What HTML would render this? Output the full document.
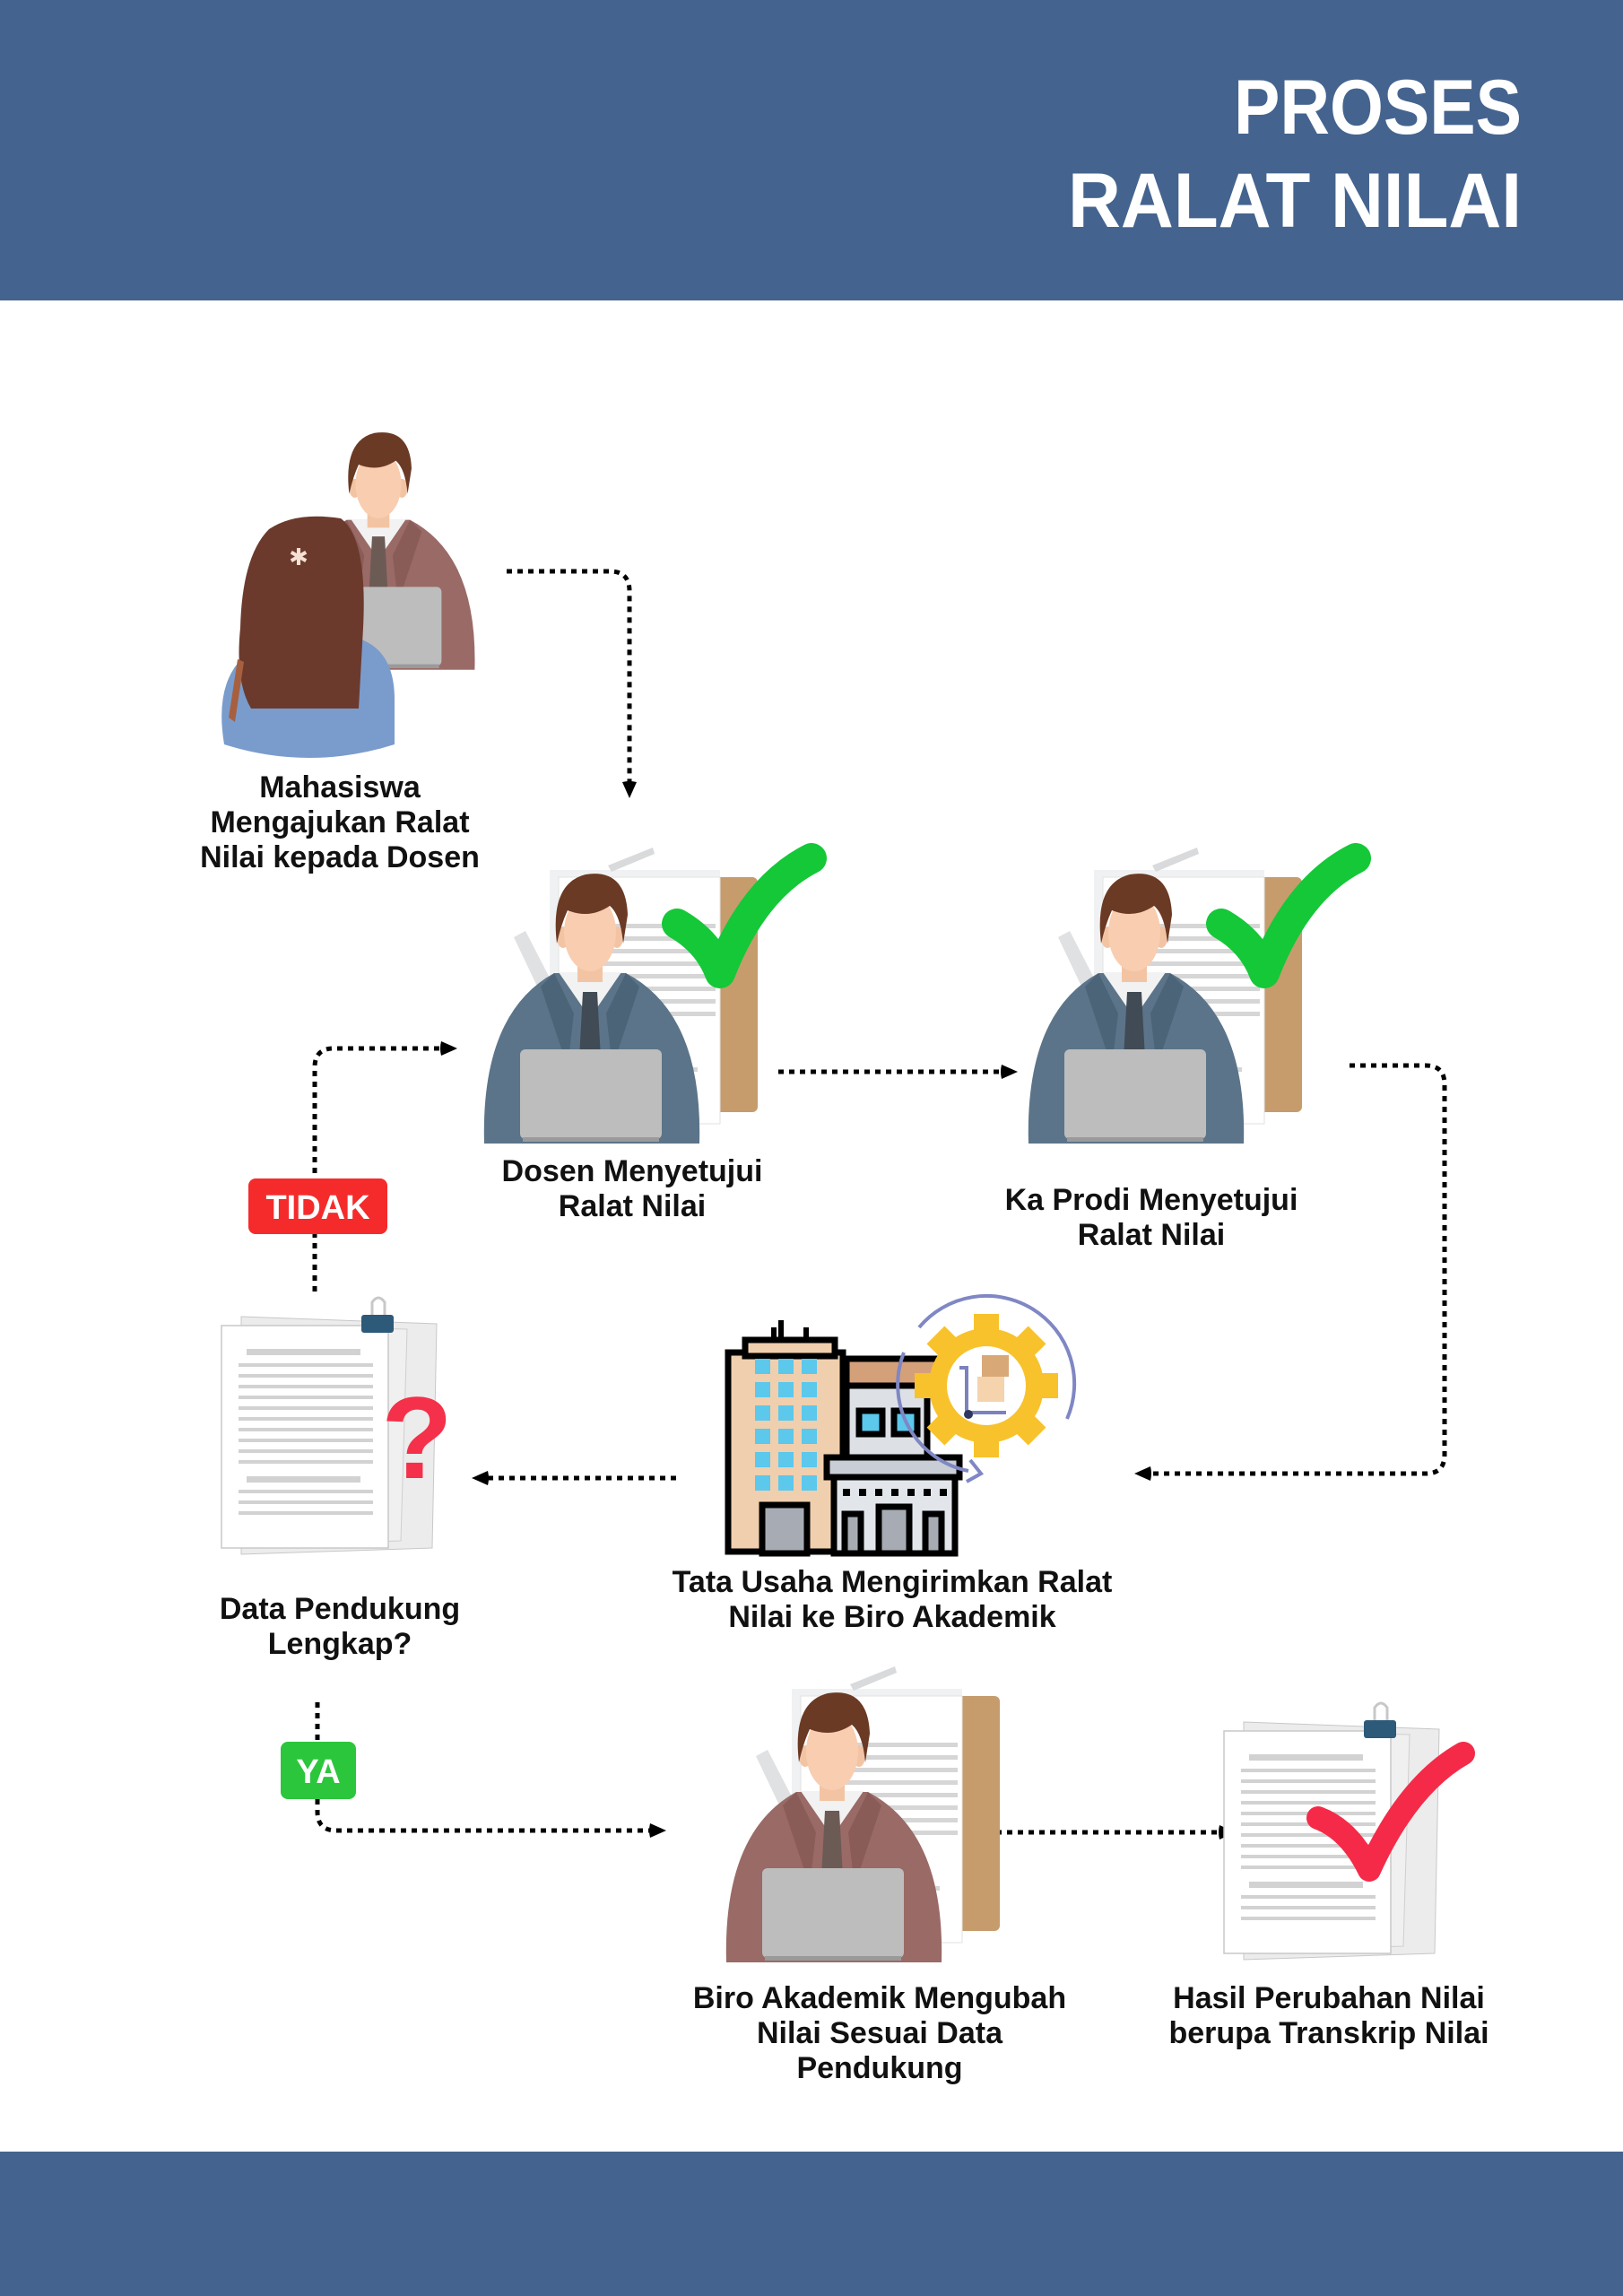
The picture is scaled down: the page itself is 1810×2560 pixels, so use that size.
<!DOCTYPE html>
<html><head><meta charset="utf-8"><style>
html,body{margin:0;padding:0;background:#fff}
svg{display:block}
</style></head><body>
<svg width="1810" height="2560" viewBox="0 0 1810 2560" xmlns="http://www.w3.org/2000/svg">
<defs>
<marker id="ar" markerWidth="22" markerHeight="22" refX="4" refY="11" orient="auto" markerUnits="userSpaceOnUse">
<path d="M2,3 L20,11 L2,19 Q0,11 2,3 Z" fill="#000"/>
</marker>
<g id="papers">
<path d="M-85,5 L-72,-2 L-40,60 L-55,68 Z" fill="#dfe1e3"/>
<rect x="-25" y="-62" width="212" height="262" fill="#c69c6d" rx="6"/>
<rect x="-45" y="-70" width="190" height="280" fill="#f0f1f2"/>
<rect x="-35" y="-62" width="180" height="275" fill="#fff" stroke="#e2e2e2"/>
<g fill="#d6d6d6">
<rect x="-10" y="-10" width="150" height="5"/><rect x="-10" y="4" width="150" height="5"/>
<rect x="-10" y="18" width="150" height="5"/><rect x="-10" y="32" width="150" height="5"/>
<rect x="-10" y="46" width="150" height="5"/><rect x="-10" y="60" width="150" height="5"/>
<rect x="-10" y="74" width="150" height="5"/><rect x="-10" y="88" width="150" height="5"/>
<rect x="-10" y="150" width="130" height="5"/><rect x="-10" y="185" width="130" height="5"/>
</g>
<path d="M20,-75 L70,-95 L72,-88 L24,-68 Z" fill="#d8dadc"/>
</g>
<g id="pblue">
<path d="M-118,235 Q-122,90 -40,45 L40,45 Q126,90 122,235 Z" fill="#5b7489"/>
<path d="M-35,44 L0,95 L35,44 Z" fill="#f2f2f2"/>
<path d="M-8,66 L8,66 L12,140 L0,150 L-12,140 Z" fill="#414b55"/>
<path d="M-40,45 L-18,90 L-25,150 L-55,60 Z M40,45 L18,90 L25,150 L55,60 Z" fill="#4c6477"/>
<rect x="-14" y="25" width="28" height="30" fill="#f3c4a4"/>
<ellipse cx="-30" cy="5" rx="7" ry="12" fill="#f3c4a4"/><ellipse cx="30" cy="5" rx="7" ry="12" fill="#f3c4a4"/>
<ellipse cx="0" cy="0" rx="29" ry="43" fill="#f8cdb0"/>
<path d="M-37,12 Q-45,-55 -5,-65 Q40,-72 42,-20 L37,12 Q34,-20 22,-30 Q0,-15 -25,-25 Q-32,-10 -37,12 Z" fill="#6b3a24"/>
<rect x="-78" y="130" width="158" height="100" rx="6" fill="#bdbdbd"/>
<rect x="-75" y="228" width="152" height="5" fill="#9a9a9a"/>
</g>
<g id="pbrown">
<path d="M-118,235 Q-122,90 -40,45 L40,45 Q126,90 122,235 Z" fill="#9a6a66"/>
<path d="M-35,44 L0,95 L35,44 Z" fill="#f2f2f2"/>
<path d="M-8,66 L8,66 L12,140 L0,150 L-12,140 Z" fill="#6c5a55"/>
<path d="M-40,45 L-18,90 L-25,150 L-55,60 Z M40,45 L18,90 L25,150 L55,60 Z" fill="#8a5c58"/>
<rect x="-14" y="25" width="28" height="30" fill="#f3c4a4"/>
<ellipse cx="-30" cy="5" rx="7" ry="12" fill="#f3c4a4"/><ellipse cx="30" cy="5" rx="7" ry="12" fill="#f3c4a4"/>
<ellipse cx="0" cy="0" rx="29" ry="43" fill="#f8cdb0"/>
<path d="M-37,12 Q-45,-55 -5,-65 Q40,-72 42,-20 L37,12 Q34,-20 22,-30 Q0,-15 -25,-25 Q-32,-10 -37,12 Z" fill="#6b3a24"/>
<rect x="-78" y="130" width="158" height="100" rx="6" fill="#bdbdbd"/>
<rect x="-75" y="228" width="152" height="5" fill="#9a9a9a"/>
</g>
<g id="doc">
<path d="M22,-10 L240,-2 L235,248 L22,255 Z" fill="#ececec" stroke="#c8c8c8"/>
<path d="M40,0 L207,4 L200,240 L40,245 Z" fill="#f0f0f0" stroke="#cfcfcf"/>
<rect x="0" y="0" width="186" height="248" fill="#fff" stroke="#c8c8c8" stroke-width="1.5"/>
<g fill="#d2d2d2">
<rect x="28" y="26" width="127" height="7"/>
<rect x="19" y="42" width="150" height="4"/><rect x="19" y="54" width="150" height="4"/>
<rect x="19" y="66" width="150" height="4"/><rect x="19" y="78" width="150" height="4"/>
<rect x="19" y="90" width="150" height="4"/><rect x="19" y="102" width="150" height="4"/>
<rect x="19" y="114" width="150" height="4"/><rect x="19" y="126" width="150" height="4"/>
<rect x="19" y="138" width="150" height="4"/><rect x="19" y="150" width="150" height="4"/>
<rect x="28" y="168" width="127" height="7"/>
<rect x="19" y="183" width="150" height="4"/><rect x="19" y="195" width="150" height="4"/>
<rect x="19" y="207" width="150" height="4"/>
</g>
<path d="M168,-12 L168,-26 Q175,-36 182,-26 L182,-12" fill="none" stroke="#c8c8c8" stroke-width="3"/>
<rect x="156" y="-12" width="36" height="20" rx="3" fill="#2d5a78"/>
</g>
</defs>

<rect x="0" y="0" width="1810" height="335" fill="#44648f"/>
<rect x="0" y="2399" width="1810" height="161" fill="#44648f"/>
<g font-family="'Liberation Sans',sans-serif" font-weight="bold" fill="#fff" font-size="86" text-anchor="end">
<text x="1697" y="149" textLength="321" lengthAdjust="spacingAndGlyphs">PROSES</text>
<text x="1697" y="253" textLength="506" lengthAdjust="spacingAndGlyphs">RALAT NILAI</text>
</g>

<g fill="none" stroke="#000" stroke-width="5" stroke-dasharray="6 6">
<path d="M565,637 H680 Q702,637 702,659 V874" marker-end="url(#ar)"/>
<path d="M351,1440 V1190 Q351,1169 372,1169 H494" marker-end="url(#ar)"/>
<path d="M868,1195 H1119" marker-end="url(#ar)"/>
<path d="M1505,1188 H1590 Q1611,1188 1611,1209 V1622 Q1611,1643 1590,1643 H1281" marker-end="url(#ar)"/>
<path d="M754,1648 H542" marker-end="url(#ar)"/>
<path d="M354,1898 V2020 Q354,2041 375,2041 H727" marker-end="url(#ar)"/>
<path d="M1111,2043 H1362" marker-end="url(#ar)"/>
</g>

<rect x="277" y="1314" width="155" height="62" rx="8" fill="#f52b2b"/>
<text x="354.5" y="1359" font-family="'Liberation Sans',sans-serif" font-weight="bold" font-size="38" fill="#fff" text-anchor="middle">TIDAK</text>
<rect x="313" y="1942" width="84" height="64" rx="8" fill="#2cc63c"/>
<text x="355" y="1988" font-family="'Liberation Sans',sans-serif" font-weight="bold" font-size="38" fill="#fff" text-anchor="middle">YA</text>

<g transform="translate(422,540) scale(0.88)">
<use href="#pbrown"/>
</g>
<path d="M250,830 Q235,740 300,715 L400,712 Q440,725 440,780 L440,830 Q345,860 250,830 Z" fill="#7a9ccc"/>
<path d="M300,590 Q330,570 380,578 Q410,600 405,700 L400,790 L280,790 Q262,760 268,700 Q270,620 300,590 Z" fill="#6b3a2c"/>
<path d="M255,800 L265,735 L272,738 L262,805 Z" fill="#a7603f"/>
<text x="333" y="630" font-family="'Liberation Sans',sans-serif" font-size="26" fill="#f5e1d3" text-anchor="middle">✱</text>

<g transform="translate(658,1040)"><use href="#papers"/></g>
<path d="M755,1030 Q790,1050 803,1085 Q840,990 905,957" fill="none" stroke="#14c838" stroke-width="34" stroke-linecap="round" stroke-linejoin="round"/>
<g transform="translate(658,1040)"><use href="#pblue"/></g>

<g transform="translate(1265,1040)"><use href="#papers"/></g>
<path d="M1362,1030 Q1397,1050 1410,1085 Q1447,990 1512,957" fill="none" stroke="#14c838" stroke-width="34" stroke-linecap="round" stroke-linejoin="round"/>
<g transform="translate(1265,1040)"><use href="#pblue"/></g>

<g stroke="#000" stroke-width="7">
<rect x="944" y="1515" width="120" height="40" fill="#d4a07a"/>
<rect x="944" y="1545" width="90" height="80" fill="#dde1e6"/>
<rect x="812" y="1508" width="128" height="222" fill="#f0cfae"/>
<rect x="831" y="1494" width="100" height="18" fill="#f0cfae"/>
<rect x="922" y="1625" width="148" height="22" fill="#c9ced6"/>
<rect x="930" y="1647" width="135" height="85" fill="#e2e6ea"/>
</g>
<rect x="868" y="1472" width="6" height="22" fill="#000"/><rect x="860" y="1480" width="6" height="14" fill="#000"/><rect x="896" y="1480" width="6" height="14" fill="#000"/>
<g fill="#5bc8ec">
<rect x="842" y="1515" width="17" height="17"/><rect x="868" y="1515" width="17" height="17"/><rect x="894" y="1515" width="17" height="17"/>
<rect x="842" y="1541" width="17" height="17"/><rect x="868" y="1541" width="17" height="17"/><rect x="894" y="1541" width="17" height="17"/>
<rect x="842" y="1567" width="17" height="17"/><rect x="868" y="1567" width="17" height="17"/><rect x="894" y="1567" width="17" height="17"/>
<rect x="842" y="1593" width="17" height="17"/><rect x="868" y="1593" width="17" height="17"/><rect x="894" y="1593" width="17" height="17"/>
<rect x="842" y="1619" width="17" height="17"/><rect x="868" y="1619" width="17" height="17"/><rect x="894" y="1619" width="17" height="17"/>
<rect x="842" y="1645" width="17" height="17"/><rect x="868" y="1645" width="17" height="17"/><rect x="894" y="1645" width="17" height="17"/>
</g>
<rect x="850" y="1678" width="50" height="54" fill="#a7acb4" stroke="#000" stroke-width="7"/>
<rect x="958" y="1573" width="26" height="26" fill="#5bc8ec" stroke="#000" stroke-width="7"/>
<rect x="997" y="1573" width="26" height="26" fill="#5bc8ec" stroke="#000" stroke-width="7"/>
<g fill="#000"><rect x="940" y="1660" width="8" height="8"/><rect x="958" y="1660" width="8" height="8"/><rect x="976" y="1660" width="8" height="8"/><rect x="994" y="1660" width="8" height="8"/><rect x="1012" y="1660" width="8" height="8"/><rect x="1030" y="1660" width="8" height="8"/><rect x="1048" y="1660" width="8" height="8"/></g>
<g fill="#a7acb4" stroke="#000" stroke-width="7"><rect x="942" y="1688" width="18" height="44"/><rect x="980" y="1680" width="34" height="52"/><rect x="1032" y="1688" width="18" height="44"/></g>
<g transform="translate(1100,1545)">
<circle r="64" fill="#f8c22c"/>
<g fill="#f8c22c">
<rect x="-14" y="-80" width="28" height="20"/><rect x="-14" y="60" width="28" height="20"/>
<rect x="-80" y="-14" width="20" height="28"/><rect x="60" y="-14" width="20" height="28"/>
<rect x="-14" y="-80" width="28" height="20" transform="rotate(45)"/><rect x="-14" y="60" width="28" height="20" transform="rotate(45)"/>
<rect x="-80" y="-14" width="20" height="28" transform="rotate(45)"/><rect x="60" y="-14" width="20" height="28" transform="rotate(45)"/>
</g>
<circle r="44" fill="#fff"/>
<rect x="-5" y="-34" width="30" height="24" fill="#d9a877"/>
<rect x="-10" y="-10" width="30" height="28" fill="#f5d3ad"/>
<path d="M-30,-20 L-22,-20 L-22,30 L22,30" fill="none" stroke="#7c82bd" stroke-width="4"/>
<circle cx="-20" cy="32" r="5" fill="#2f3760"/>
</g>
<path d="M1008,1508 A98,98 0 0 0 1080,1640 M1190,1582 A98,98 0 0 0 1025,1480" fill="none" stroke="#7f87c4" stroke-width="4"/>
<path d="M1082,1628 L1094,1643 L1078,1652" fill="none" stroke="#7f87c4" stroke-width="4"/>

<g transform="translate(247,1478)"><use href="#doc"/></g>
<text x="465" y="1648" font-family="'Liberation Sans',sans-serif" font-weight="bold" font-size="130" fill="#f5304a" text-anchor="middle">?</text>

<g transform="translate(928,1953)"><use href="#papers"/></g>
<g transform="translate(928,1953)"><use href="#pbrown"/></g>

<g transform="translate(1365,1930)"><use href="#doc"/></g>
<path d="M1470,2027 Q1505,2040 1527,2085 Q1570,1990 1632,1955" fill="none" stroke="#f42a48" stroke-width="26" stroke-linecap="round" stroke-linejoin="round"/>

<g font-family="'Liberation Sans',sans-serif" font-weight="bold" font-size="34" fill="#111" text-anchor="middle">
<text x="379" y="889">Mahasiswa</text>
<text x="379" y="928">Mengajukan Ralat</text>
<text x="379" y="967">Nilai kepada Dosen</text>
<text x="705" y="1317">Dosen Menyetujui</text>
<text x="705" y="1356">Ralat Nilai</text>
<text x="1284" y="1349">Ka Prodi Menyetujui</text>
<text x="1284" y="1388">Ralat Nilai</text>
<text x="379" y="1805">Data Pendukung</text>
<text x="379" y="1844">Lengkap?</text>
<text x="995" y="1775">Tata Usaha Mengirimkan Ralat</text>
<text x="995" y="1814">Nilai ke Biro Akademik</text>
<text x="981" y="2239">Biro Akademik Mengubah</text>
<text x="981" y="2278">Nilai Sesuai Data</text>
<text x="981" y="2317">Pendukung</text>
<text x="1482" y="2239">Hasil Perubahan Nilai</text>
<text x="1482" y="2278">berupa Transkrip Nilai</text>
</g>
</svg>
</body></html>
